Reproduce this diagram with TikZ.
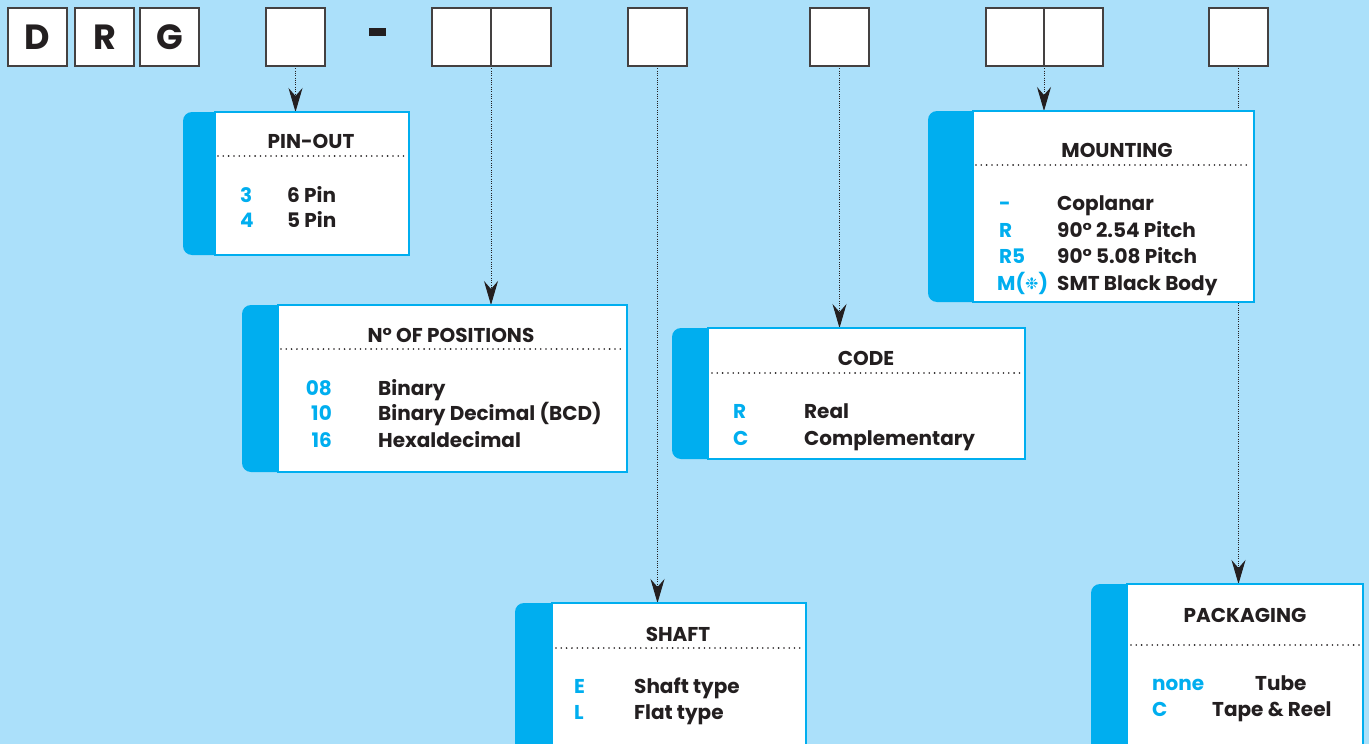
\documentclass[tikz,border=0pt]{standalone}
\usepackage{fontspec}
\setmainfont{Poppins}
\newfontfamily\symfont{DejaVu Sans}
\usetikzlibrary{arrows.meta}
\pgfdeclarelayer{back}
\pgfdeclarelayer{links}
\pgfsetlayers{back,links,main}
\definecolor{bgblue}{RGB}{171,224,250}
\definecolor{accent}{RGB}{0,174,239}
\definecolor{ink}{RGB}{35,31,32}
\newcommand\txtfont{\fontsize{20}{20}\selectfont\bfseries}
\newcommand\mkpanel[6]{% name, x-left, x-strip, x-right, y-top, y-bottom
  \fill[accent, rounded corners=9pt] (#2,#5) rectangle (#4,#6);
  \node[panel, minimum width={#4-#3}, minimum height={#6-#5}] (#1) at (#3,#5) {};
}
\begin{document}
\begin{tikzpicture}[x=1pt,y=-1pt,
  letterbox/.style={draw=ink!85, line width=1.3pt, fill=white, minimum width=59pt,
    minimum height=58pt, inner sep=0pt, outer sep=0pt, anchor=north west,
    font=\fontsize{35}{35}\selectfont\bfseries, text=ink},
  panel/.style={draw=accent, line width=1.2pt, fill=white, inner sep=0pt, outer sep=0pt, anchor=north west},
  title/.style={anchor=base, inner sep=0pt, font=\txtfont, text=ink},
  codetxt/.style={anchor=base west, inner sep=0pt, font=\txtfont, text=accent},
  codetxtr/.style={anchor=base east, inner sep=0pt, font=\txtfont, text=accent},
  desc/.style={anchor=base west, inner sep=0pt, font=\txtfont, text=ink},
  sepline/.style={draw=ink, line width=1.8pt, line cap=round, dash pattern=on 0pt off 5.3pt},
  link/.style={draw=ink, line width=1pt, dash pattern=on 1pt off 1.3pt,
    -{Stealth[length=24pt,width=14pt,inset=8pt,fill=ink]}}
]
\useasboundingbox (0,0) rectangle (1369,744);
\begin{pgfonlayer}{back}
  \fill[bgblue] (0,0) rectangle (1369,744);
\end{pgfonlayer}
\clip (0,0) rectangle (1369,744);

% top code boxes
\node[letterbox] (bD) at (8,8) {D};
\node[letterbox] (bR) at (75,8) {R};
\node[letterbox] (bG) at (140,8) {G};
\node[letterbox] (b1) at (266,8) {};
\fill[ink] (369,28) rectangle (386,36);
\node[letterbox] (p1) at (432,8) {};
\node[letterbox, minimum width=60pt] (p2) at (491,8) {};
\node[letterbox] (s1) at (628,8) {};
\node[letterbox] (c1) at (810,8) {};
\node[letterbox, minimum width=58pt] (m1) at (986,8) {};
\node[letterbox] (m2) at (1044,8) {};
\node[letterbox] (k1) at (1209,8) {};

% PIN-OUT
\mkpanel{pin}{183}{215}{409}{112}{255}
\node[title] (pinT) at (311,148) {PIN-OUT};
\draw[sepline] (218,156) -- (404,156);
\node[codetxt] (pinC1) at (240,202) {3};
\node[desc] (pinD1) at (287,202) {6 Pin};
\node[codetxt] (pinC2) at (240,227) {4};
\node[desc] (pinD2) at (287,227) {5 Pin};

% N° OF POSITIONS
\mkpanel{pos}{242}{278}{627}{305}{472}
\node[title] (posT) at (451,342) {N° OF POSITIONS};
\draw[sepline] (281,349) -- (623,349);
\node[codetxtr] (posC1) at (332,395) {08};
\node[desc] (posD1) at (378,395) {Binary};
\node[codetxtr] (posC2) at (332,420) {10};
\node[desc] (posD2) at (378,420) {Binary Decimal (BCD)};
\node[codetxtr] (posC3) at (332,447) {16};
\node[desc] (posD3) at (378,447) {Hexaldecimal};

% SHAFT
\mkpanel{sha}{515}{552}{806}{603}{770}
\node[title] (shaT) at (678,641) {SHAFT};
\draw[sepline] (556,648) -- (802,648);
\node[codetxt] (shaC1) at (574,693) {E};
\node[desc] (shaD1) at (634,693) {Shaft type};
\node[codetxt] (shaC2) at (574,719) {L};
\node[desc] (shaD2) at (634,719) {Flat type};

% CODE
\mkpanel{cod}{672}{708}{1025}{328}{459}
\node[title] (codT) at (866,365) {CODE};
\draw[sepline] (712,373) -- (1021,373);
\node[codetxt] (codC1) at (733,418) {R};
\node[desc] (codD1) at (804,418) {Real};
\node[codetxt] (codC2) at (733,445) {C};
\node[desc] (codD2) at (804,445) {Complementary};

% MOUNTING
\mkpanel{mou}{928}{973}{1254}{111}{302}
\node[title] (mouT) at (1117,157) {MOUNTING};
\draw[sepline] (976,165) -- (1251,165);
\node[codetxt] (mouC1) at (999,210) {-};
\node[desc] (mouD1) at (1057,210) {Coplanar};
\node[codetxt] (mouC2) at (999,237) {R};
\node[desc] (mouD2) at (1057,237) {90° 2.54 Pitch};
\node[codetxt] (mouC3) at (999,263) {R5};
\node[desc] (mouD3) at (1057,263) {90° 5.08 Pitch};
\node[codetxt] (mouC4) at (997,290) {M(\raisebox{0.5pt}{\symfont\bfseries\fontsize{16}{16}\selectfont ❉})};
\node[desc] (mouD4) at (1057,290) {SMT Black Body};

% PACKAGING
\mkpanel{pak}{1091}{1127}{1363}{584}{770}
\node[title] (pakT) at (1245,622) {PACKAGING};
\draw[sepline] (1131,645) -- (1360,645);
\node[codetxt] (pakC1) at (1152,690) {none};
\node[desc] (pakD1) at (1255,690) {Tube};
\node[codetxt] (pakC2) at (1152,716) {C};
\node[desc] (pakD2) at (1212,716) {Tape \& Reel};

% connectors
\begin{pgfonlayer}{links}
  \draw[link] (b1.south) -- (b1.south |- pin.north);
  \draw[link] (p1.south east) -- (p1.south east |- pos.north);
  \draw[link] (s1.south) -- (s1.south |- sha.north);
  \draw[link] (c1.south) -- (c1.south |- cod.north);
  \draw[link] (m1.south east) -- (m1.south east |- mou.north);
  \draw[link] (k1.south) -- (k1.south |- pak.north);
\end{pgfonlayer}
\end{tikzpicture}
\end{document}
